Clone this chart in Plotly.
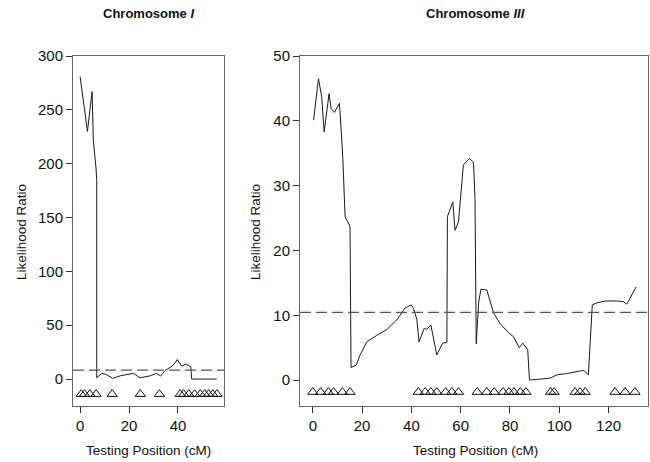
import plotly.graph_objects as go

# Chromosome I: likelihood ratio profile
chr1_pos = [0, 3.0, 4.9, 5.4, 6.5, 6.8, 6.8, 8.8, 10.5, 13.3, 16.3, 21.8, 24.5, 28.6,
            31.3, 32.9, 34.7, 38.1, 39.7, 41.5, 43.3, 45.2, 45.6, 55.8]
chr1_lr = [281, 230, 267, 222, 196, 185, 1.2, 5.2, 4.5, 0.6, 3.0, 5.3, 1.2, 3.0,
           5.3, 2.8, 7.7, 13.0, 18.2, 12.0, 14.0, 11.5, 0, 0]
chr1_markers = [0.5, 1.8, 4.0, 6.5, 13.1, 24.6, 32.4, 40.9, 42.3, 44.4, 46.8,
                49.1, 50.9, 52.5, 54.2, 55.9]
chr1_threshold = 8.4

# Chromosome III: likelihood ratio profile
chr3_pos = [0.3, 2.3, 3.6, 4.6, 6.6, 7.4, 8.8, 10.8, 11.5, 12.2, 13.1, 15.1, 15.5,
            17.6, 19.2, 21.9, 26.0, 30.0, 34.1, 37.4, 39.9, 40.8, 42.2, 43.1, 45.2,
            46.2, 47.9, 50.3, 52.7, 54.4, 54.6, 56.8, 57.7, 59.1, 61.1, 63.5, 65.2,
            65.8, 66.3, 67.3, 68.2, 70.6, 73.3, 76.0, 79.4, 81.4, 83.8, 85.2, 87.2,
            87.9, 90.9, 96.3, 99.0, 103.0, 108.4, 110.0, 111.8, 113.4, 115.2, 118.6,
            123.3, 126.0, 127.4, 130.0, 131.2]
chr3_lr = [40.1, 46.5, 43.7, 38.3, 44.2, 41.9, 41.3, 42.7, 38.6, 34.0, 25.2, 23.7, 1.95,
           2.3, 3.9, 5.9, 6.9, 7.8, 9.3, 11.1, 11.6, 11.1, 9.4, 5.9, 8.0,
           7.8, 8.5, 3.9, 5.7, 5.8, 25.2, 27.5, 23.1, 24.4, 33.2, 34.2, 33.6,
           28.0, 5.6, 12.0, 14.0, 13.9, 10.4, 8.7, 7.3, 6.7, 5.0, 5.7, 4.7,
           0.0, 0.1, 0.3, 0.8, 1.0, 1.4, 1.5, 0.8, 11.6, 11.9, 12.2,
           12.2, 12.1, 11.7, 13.6, 14.4]
chr3_markers = [0, 3.2, 6.3, 8.4, 12.0, 15.1, 42.8, 45.6, 47.9, 50.3, 53.9, 56.4, 59.1,
                66.7, 70.6, 73.6, 77.2, 79.6, 81.6, 84.2, 86.5, 96.5, 97.9,
                106.4, 108.4, 110.5, 122.6, 126.7, 130.7]
chr3_threshold = 10.45

W, H = 650, 462
FONT = "Liberation Sans, Arial, sans-serif"


def px_x(p):
    return p / W


def px_y(p):
    return 1 - p / H


fig = go.Figure()

# profiles
fig.add_trace(go.Scatter(x=chr1_pos, y=chr1_lr, mode="lines",
                         line=dict(color="#1a1a1a", width=1), xaxis="x", yaxis="y"))
fig.add_trace(go.Scatter(x=chr3_pos, y=chr3_lr, mode="lines",
                         line=dict(color="#1a1a1a", width=1), xaxis="x2", yaxis="y2"))

# marker positions
fig.add_trace(go.Scatter(x=chr1_markers, y=[-14] * len(chr1_markers), mode="markers",
                         marker=dict(symbol="triangle-up-open", size=9, color="#111",
                                     line=dict(width=1)),
                         xaxis="x", yaxis="y"))
fig.add_trace(go.Scatter(x=chr3_markers, y=[-1.85] * len(chr3_markers), mode="markers",
                         marker=dict(symbol="triangle-up-open", size=9, color="#111",
                                     line=dict(width=1)),
                         xaxis="x2", yaxis="y2"))

# significance thresholds
fig.add_shape(type="line", xref="x domain", yref="y", x0=0, x1=1,
              y0=chr1_threshold, y1=chr1_threshold,
              line=dict(color="#555", width=1.3, dash="11px,5px"))
fig.add_shape(type="line", xref="x2 domain", yref="y2", x0=0, x1=1,
              y0=chr3_threshold, y1=chr3_threshold,
              line=dict(color="#555", width=1.3, dash="11px,5px"))

ydom = [px_y(406), px_y(56)]
axis_common = dict(showgrid=False, zeroline=False, showline=True, mirror=True,
                   automargin=False,
                   linecolor="#666", linewidth=1, ticks="outside", ticklen=6,
                   tickcolor="#333", tickfont=dict(family=FONT, size=15, color="#111"))

fig.update_layout(
    width=W, height=H, showlegend=False,
    margin=dict(l=0, r=0, t=0, b=0, pad=0, autoexpand=False),
    paper_bgcolor="white", plot_bgcolor="white",
    font=dict(family=FONT, color="#111"),
    xaxis=dict(domain=[px_x(73), px_x(224)], range=[-2.9, 58.8],
               tickvals=[0, 20, 40], anchor="y", **axis_common),
    yaxis=dict(domain=ydom, range=[-25, 300], tickvals=[0, 50, 100, 150, 200, 250, 300],
               anchor="x", **axis_common),
    xaxis2=dict(domain=[px_x(300), px_x(648)], range=[-5.2, 136],
                tickvals=[0, 20, 40, 60, 80, 100, 120], anchor="y2", **axis_common),
    yaxis2=dict(domain=ydom, range=[-4, 50], tickvals=[0, 10, 20, 30, 40, 50],
                anchor="x2", **axis_common),
)

# panel titles and axis labels
notes = [
    (148, 14, "<b>Chromosome <i>I</i></b>", 0, 13),
    (475, 14, "<b>Chromosome <i>III</i></b>", 0, 13),
    (148, 450, "Testing Position (cM)", 0, 13.5),
    (475, 450, "Testing Position (cM)", 0, 13.5),
    (21, 232, "Likelihood Ratio", -90, 13.5),
    (255, 232, "Likelihood Ratio", -90, 13.5),
]
for x, y, text, ang, size in notes:
    fig.add_annotation(x=px_x(x), y=px_y(y), xref="paper", yref="paper", text=text,
                       showarrow=False, textangle=ang, xanchor="center", yanchor="middle",
                       font=dict(family=FONT, size=size, color="#111"))

fig.write_html("out.html", config={"displayModeBar": False},
               post_script="document.body.style.margin='0';")
